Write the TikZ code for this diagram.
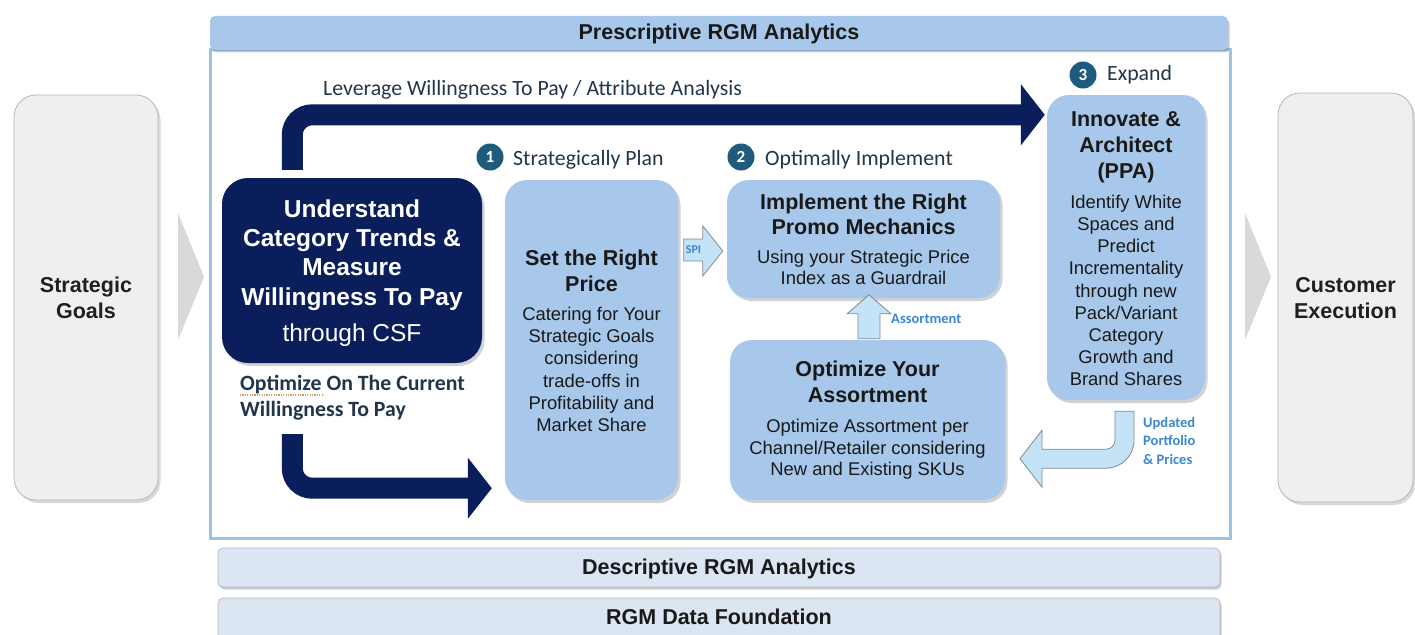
\documentclass[tikz,border=0pt]{standalone}
\usepackage{fontspec}
\setmainfont{Liberation Sans}
\newfontfamily\arialf{Liberation Sans}
\newfontfamily\calf{Carlito}
\usetikzlibrary{arrows.meta,shadows}

\definecolor{navy}{HTML}{0A1E5C}
\definecolor{paleblue}{HTML}{A7C8EB}
\definecolor{barblue}{HTML}{DCE6F2}
\definecolor{framecol}{HTML}{9CC2E5}
\definecolor{stepteal}{HTML}{1E5B7C}
\definecolor{labtext}{HTML}{22364B}
\definecolor{tagblue}{HTML}{3B87D4}
\definecolor{arrowfill}{HTML}{C4E3F6}
\definecolor{arrowline}{HTML}{7D8B99}
\definecolor{sidefill}{HTML}{EFEFEF}
\definecolor{sideline}{HTML}{B8B8B8}
\definecolor{chevgray}{HTML}{D9D9D9}
\definecolor{squig}{HTML}{C9A062}

% fonts
\newcommand\fHead{\arialf\bfseries\fontsize{21.5}{26}\selectfont}
\newcommand\fBody{\arialf\fontsize{18.4}{22}\selectfont}
\newcommand\fBig{\arialf\bfseries\fontsize{24.5}{29}\selectfont}
\newcommand\fBigR{\arialf\fontsize{24.5}{29}\selectfont}
\newcommand\fLab{\calf\fontsize{21.8}{26}\selectfont}
\newcommand\fLabB{\calf\bfseries\fontsize{21.8}{26}\selectfont}
\newcommand\fTag{\calf\bfseries\fontsize{14.5}{18}\selectfont}

% one centred line, #1 = distance from the previous baseline
\newcommand\tline[3]{\baselineskip=#1pt\relax\hbox to 0pt{\hss#2#3\hss}}
\newcommand\hdln[2]{\tline{#1}{\fHead}{#2}}
\newcommand\bdln[2]{\tline{#1}{\fBody}{#2}}
% one left-aligned line
\newcommand\lline[2]{\baselineskip=#1pt\relax\hbox{#2}}

\pgfdeclarelayer{base}
\pgfdeclarelayer{flow}
\pgfsetlayers{base,flow,main}

\tikzset{
  pbox/.style={rectangle, rounded corners=22pt, fill=paleblue, inner sep=0pt, text=black!90,
    drop shadow={shadow xshift=2.5pt, shadow yshift=-3pt, opacity=0.35}},
  navybox/.style={rectangle, rounded corners=26pt, fill=navy, inner sep=0pt, text=white,
    drop shadow={shadow xshift=2.5pt, shadow yshift=-3pt, opacity=0.35}},
  sidebox/.style={rectangle, rounded corners=22pt, fill=sidefill, draw=sideline, line width=0.8pt,
    inner sep=0pt, text=black!88,
    drop shadow={shadow xshift=2.5pt, shadow yshift=-3pt, opacity=0.3}},
  hdrbar/.style={rectangle, rounded corners=5pt, fill=paleblue, inner sep=0pt, text=black!90,
    font=\fHead, drop shadow={shadow xshift=1.5pt, shadow yshift=-2.5pt, opacity=0.4}},
  lowbar/.style={rectangle, rounded corners=5pt, fill=barblue, draw=black!30, line width=0.6pt,
    inner sep=0pt, text=black!90, font=\fHead,
    drop shadow={shadow xshift=1.5pt, shadow yshift=-2.5pt, opacity=0.4}},
  framebox/.style={rectangle, draw=framecol, line width=3pt, fill=white, inner sep=0pt,
    drop shadow={shadow xshift=1.5pt, shadow yshift=-2pt, opacity=0.15}},
  navyline/.style={draw=navy, line width=21pt, rounded corners=20pt,
    -{Triangle[length=24pt,width=60pt]}},
  blockarrow/.style={fill=arrowfill, draw=arrowline, line width=0.8pt, line join=miter},
  stepdot/.style={circle, fill=stepteal, minimum size=27pt, inner sep=0pt, text=white,
    font=\calf\bfseries\fontsize{17}{20}\selectfont},
  steplabel/.style={anchor=base west, inner sep=0pt, text=labtext, font=\fLab},
  tag/.style={anchor=base west, inner sep=0pt, text=tagblue, font=\fTag},
}

\begin{document}
\begin{tikzpicture}[x=1pt, y=-1pt]
\useasboundingbox (0,0) rectangle (1415,634);
\clip (0,0) rectangle (1415,634);

\begin{pgfonlayer}{base}
\fill[white] (0,0) rectangle (1415,634);

% side chevrons
\fill[chevgray] (178,213) -- (204,277) -- (178,340) -- cycle;
\fill[chevgray] (1245,213) -- (1271,277) -- (1245,340) -- cycle;

% side boxes
\node[sidebox, minimum width=144pt, text height=223pt, text depth=182pt] (goals) at (86,297.5)
  {\vbox{\hdln{0}{Strategic}\hdln{26}{Goals}}};
\node[sidebox, minimum width=135pt, text height=225pt, text depth=184pt] (cust) at (1345.5,297.5)
  {\vbox{\hdln{0}{Customer}\hdln{26}{Execution}}};

% prescriptive frame and its header
\node[framebox, minimum width=1020pt, minimum height=488pt] (frame) at (720,294) {};
\node[hdrbar, minimum width=1018pt, text height=24pt, text depth=10pt] (presc) at (719,33)
  {Prescriptive RGM Analytics};

% lower layers
\node[lowbar, minimum width=1002pt, text height=26pt, text depth=13pt] (desc) at (719,567.5)
  {Descriptive RGM Analytics};
\node[lowbar, minimum width=1002pt, text height=26pt, text depth=18pt] (found) at (719,620)
  {RGM Data Foundation};
\end{pgfonlayer}

% main boxes
\node[navybox, minimum width=260pt, text height=163pt, text depth=22pt] (und) at (352,270.5)
  {\vbox{\tline{0}{\fBig}{Understand}\tline{29}{\fBig}{Category Trends \&}%
   \tline{29}{\fBig}{Measure}\tline{30}{\fBig}{Willingness To Pay}\tline{36}{\fBigR}{through CSF}}};

\node[pbox, minimum width=173pt, text height=251pt, text depth=69pt] (price) at (591.5,340)
  {\vbox{\hdln{0}{Set the Right}\hdln{26}{Price}\bdln{29}{Catering for Your}%
   \bdln{22}{Strategic Goals}\bdln{22}{considering}\bdln{23}{trade-offs in}%
   \bdln{22}{Profitability and}\bdln{22}{Market Share}}};

\node[pbox, minimum width=273pt, text height=104pt, text depth=14pt] (impl) at (863.5,239)
  {\vbox{\hdln{0}{Implement the Right}\hdln{25}{Promo Mechanics}%
   \bdln{29}{Using your Strategic Price}\bdln{21}{Index as a Guardrail}}};

\node[pbox, minimum width=275pt, text height=135pt, text depth=25pt] (opt) at (867.5,420)
  {\vbox{\hdln{0}{Optimize Your}\hdln{26}{Assortment}\bdln{30}{Optimize Assortment per}%
   \bdln{22}{Channel/Retailer considering}\bdln{21}{New and Existing SKUs}}};

\node[pbox, minimum width=158pt, text height=290pt, text depth=15pt] (inn) at (1126,247.5)
  {\vbox{\hdln{0}{Innovate \&}\hdln{26}{Architect}\hdln{26}{(PPA)}\bdln{30}{Identify White}%
   \bdln{22}{Spaces and}\bdln{22}{Predict}\bdln{22}{Incrementality}\bdln{23}{through new}%
   \bdln{22}{Pack/Variant}\bdln{22}{Category}\bdln{22}{Growth and}\bdln{22}{Brand Shares}}};

% the two navy flow arrows, under the boxes
\begin{pgfonlayer}{flow}
\coordinate (wtp) at ([xshift=70.5pt,yshift=-71pt]und.south west);
\draw[navyline] ([yshift=8pt]und.north -| wtp) |- ([xshift=-2pt,yshift=-20pt]inn.north west);
\draw[navyline] (wtp) |- ([xshift=-13pt,yshift=12pt]price.south west);
\end{pgfonlayer}

% light block arrows between the steps
\draw[blockarrow, shift={(impl.west)}] (-43,0) -- (-24,0) -- (-24,-13) -- (-4,12) -- (-24,37)
  -- (-24,22) -- (-43,22) -- cycle;
\draw[blockarrow, shift={(opt.north)}] (-9.5,-1) -- (-9.5,-26) -- (-20.5,-26) -- (1.5,-45)
  -- (23.5,-26) -- (12.5,-26) -- (12.5,-1) -- cycle;
\draw[blockarrow, shift={(inn.south)}] (-11,11) -- (8,11) -- (8,40)
  .. controls (8,55.5) and (-4.5,68) .. (-20,68) -- (-84,68) -- (-84,87) -- (-106,58.5)
  -- (-84,30) -- (-84,49) -- (-20,49) .. controls (-15,49) and (-11,45) .. (-11,40) -- cycle;

% small arrow tags
\node[inner sep=0pt, text=tagblue, font=\calf\bfseries\fontsize{12}{14}\selectfont] (spi)
  at (693.5,250) {SPI};
\node[tag] (asst) at (891,323) {Assortment};
\node[tag] (upd) at (1143,464)
  {\vbox{\lline{0}{Updated}\lline{18.5}{Portfolio}\lline{18.5}{\& Prices}}};

% step markers
\node[stepdot] (n1) at (490,157) {1};
\node[steplabel] (s1) at (513,165) {Strategically Plan};
\node[stepdot] (n2) at (741,157) {2};
\node[steplabel] (s2) at (765,165) {Optimally Implement};
\node[stepdot] (n3) at (1083,75) {3};
\node[steplabel] (s3) at (1107,81) {Expand};

% arrow captions
\node[steplabel] (lev) at (323,95) {Leverage Willingness To Pay / Attribute Analysis};
\node[anchor=base west, inner sep=0pt, text=labtext, font=\fLabB] (cur) at (240,416)
  {\vbox{\lline{0}{Optimize On The Current}\lline{26}{Willingness To Pay}}};
\draw[squig, line width=1.1pt, dash pattern=on 1.2pt off 1.2pt] (240,395) -- (324,395);

\end{tikzpicture}
\end{document}
